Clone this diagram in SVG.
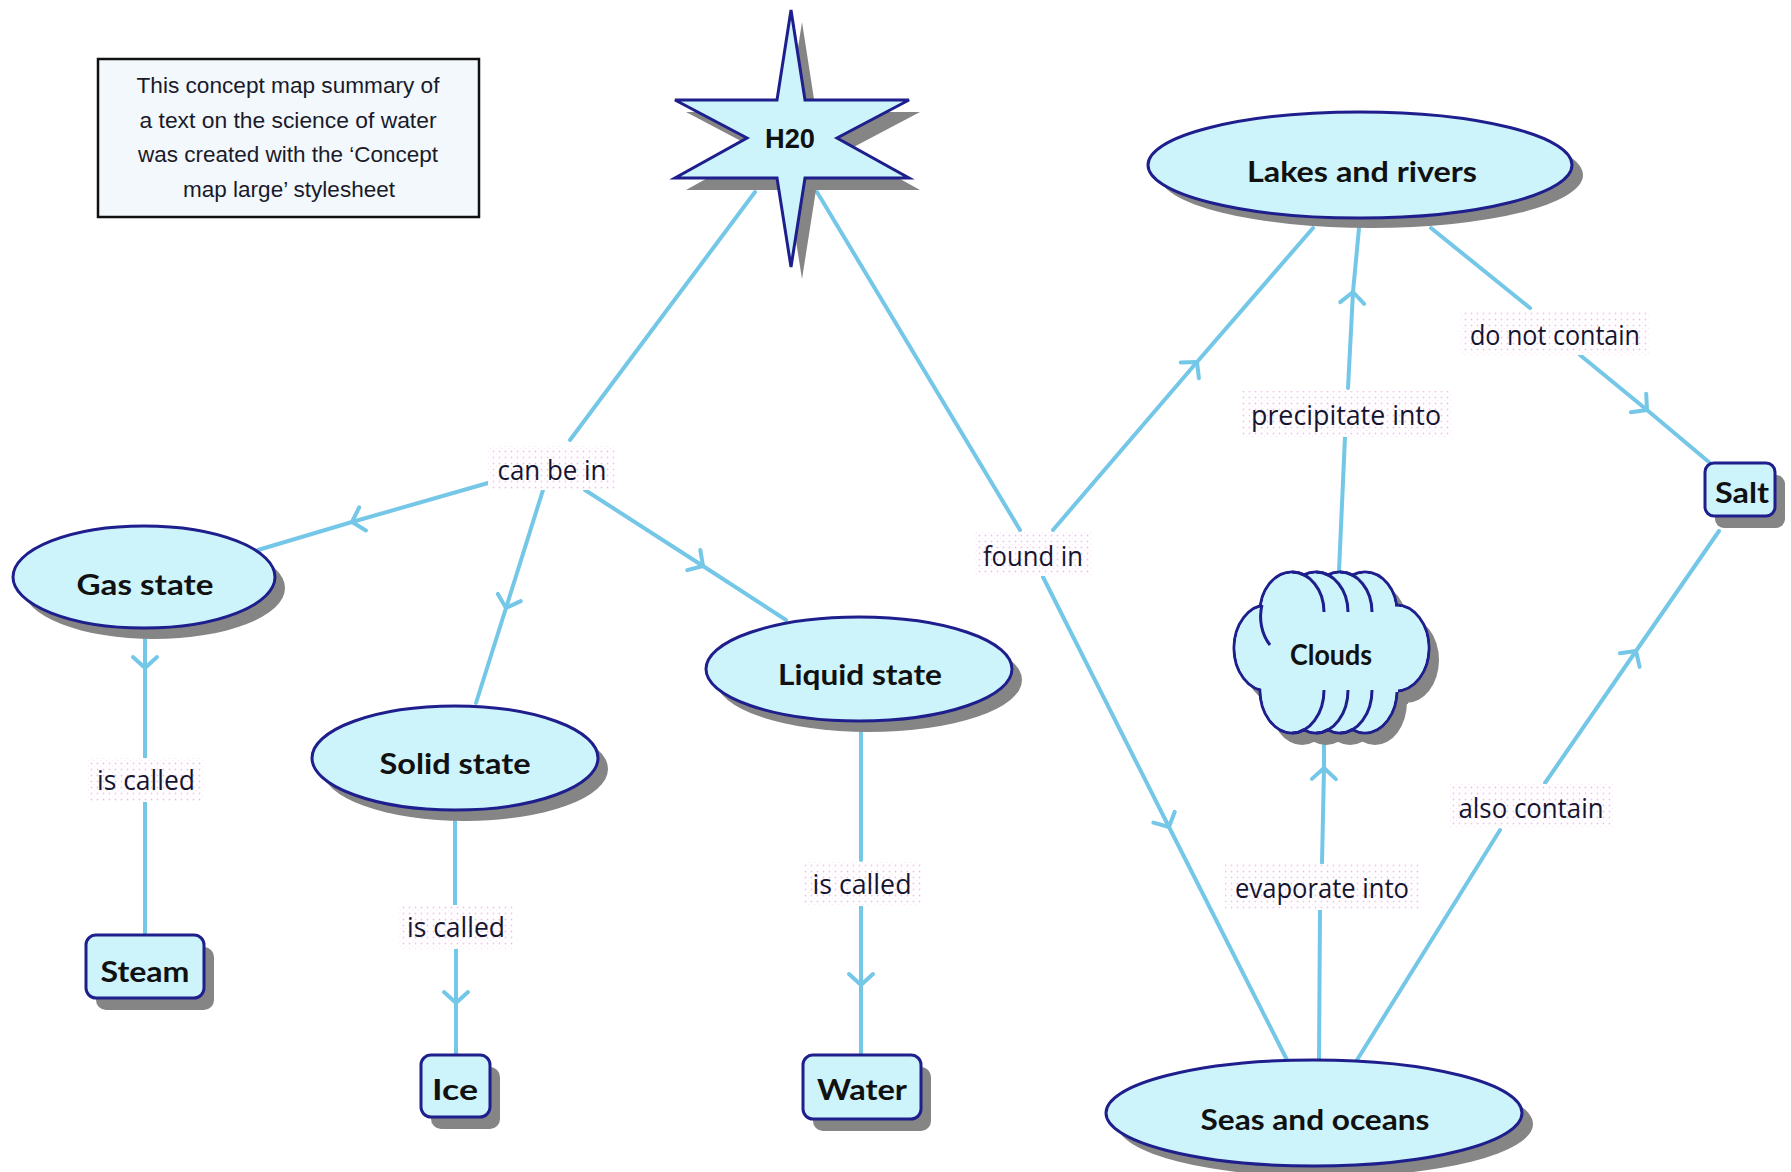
<svg xmlns="http://www.w3.org/2000/svg" width="1791" height="1172" viewBox="0 0 1791 1172">
<defs>
<style>
.node{fill:#cdf3fb;stroke:#1e1e8c;stroke-width:3}
.fillonly{fill:#cdf3fb;stroke:none}
.shadow{fill:#858585;stroke:none}
.ntext{font-family:Lato,"Open Sans",sans-serif;font-weight:700;font-size:28px;fill:#111;text-anchor:middle}
.ltext{font-family:"Open Sans","Noto Sans",sans-serif;font-size:27px;fill:#151530;text-anchor:middle}
.notetext{font-family:"Liberation Sans",Arial,sans-serif;font-size:22px;fill:#1a1a2a;text-anchor:middle}
.link{fill:none;stroke:#74c7e7;stroke-width:4;stroke-linecap:round;stroke-linejoin:round}
.arrow{marker-mid:url(#vee)}
.lbg{fill:url(#pinkdots);stroke:none}
.inner{fill:none;stroke:#1e1e8c;stroke-width:3}
</style>
<marker id="vee" markerUnits="userSpaceOnUse" viewBox="-15 -15 30 30" markerWidth="30" markerHeight="30" refX="0" refY="0" orient="auto" overflow="visible">
<path d="M -11 -12 L 0 0 L -11 12" fill="none" stroke="#74c7e7" stroke-width="4" stroke-linecap="round" stroke-linejoin="round"/>
</marker>
<pattern id="pinkdots" width="6" height="6" patternUnits="userSpaceOnUse">
<rect width="6" height="6" fill="#ffffff"/>
<circle cx="1.5" cy="1.5" r="0.9" fill="#f6c2ef"/>
<circle cx="4.5" cy="4.5" r="0.6" fill="#fbe0f6"/>
</pattern>
</defs>

<rect width="1791" height="1172" fill="#ffffff"/>

<!-- connectors -->
<g id="connectors">
<path class="link" d="M 755 192 L 570 440"/>
<path class="link arrow" d="M 488 483 L 352 522 L 258 550"/>
<path class="link arrow" d="M 543 490 L 506 608 L 476 703"/>
<path class="link arrow" d="M 585 490 L 703 566 L 786 620"/>
<path class="link arrow" d="M 145 628 L 145 668 L 145 758"/>
<path class="link" d="M 145 800 L 145 935"/>
<path class="link" d="M 455 811 L 455 905"/>
<path class="link arrow" d="M 456 947 L 456 1003 L 456 1055"/>
<path class="link" d="M 861 722 L 861 860"/>
<path class="link arrow" d="M 861 905 L 861 985 L 861 1055"/>
<path class="link" d="M 817 192 L 1020 530"/>
<path class="link arrow" d="M 1053 530 L 1197 362 L 1313 228"/>
<path class="link arrow" d="M 1043 577 L 1169 827 L 1287 1060"/>
<path class="link" d="M 1339 571 L 1345 437"/>
<path class="link arrow" d="M 1348 388 L 1353 292 L 1359 228"/>
<path class="link" d="M 1319 1060 L 1320 910"/>
<path class="link arrow" d="M 1322 863 L 1324 768 L 1324 740"/>
<path class="link" d="M 1431 228 L 1530 308"/>
<path class="link arrow" d="M 1580 355 L 1647 410 L 1710 463"/>
<path class="link" d="M 1357 1060 L 1500 830"/>
<path class="link arrow" d="M 1545 783 L 1636 651 L 1719 531"/>
</g>

<!-- linking phrases -->
<g id="link-labels">
<g id="lbl-can-be-in"><rect class="lbg" x="488" y="446" width="128" height="44"/><text class="ltext" x="552" y="480" textLength="109" lengthAdjust="spacingAndGlyphs">can be in</text></g>
<g id="lbl-found-in"><rect class="lbg" x="974" y="532" width="118" height="44"/><text class="ltext" x="1033" y="566" textLength="100" lengthAdjust="spacingAndGlyphs">found in</text></g>
<g id="lbl-precipitate"><rect class="lbg" x="1241" y="391" width="210" height="46"/><text class="ltext" x="1346" y="425" textLength="190" lengthAdjust="spacingAndGlyphs">precipitate into</text></g>
<g id="lbl-do-not-contain"><rect class="lbg" x="1460" y="311" width="190" height="44"/><text class="ltext" x="1555" y="345" textLength="170" lengthAdjust="spacingAndGlyphs">do not contain</text></g>
<g id="lbl-evaporate"><rect class="lbg" x="1225" y="864" width="194" height="46"/><text class="ltext" x="1322" y="898" textLength="174" lengthAdjust="spacingAndGlyphs">evaporate into</text></g>
<g id="lbl-also-contain"><rect class="lbg" x="1449" y="784" width="165" height="44"/><text class="ltext" x="1531" y="818" textLength="145" lengthAdjust="spacingAndGlyphs">also contain</text></g>
<g id="lbl-is-called-gas"><rect class="lbg" x="88" y="758" width="116" height="44"/><text class="ltext" x="146" y="790" textLength="98" lengthAdjust="spacingAndGlyphs">is called</text></g>
<g id="lbl-is-called-solid"><rect class="lbg" x="398" y="905" width="116" height="44"/><text class="ltext" x="456" y="937" textLength="98" lengthAdjust="spacingAndGlyphs">is called</text></g>
<g id="lbl-is-called-liquid"><rect class="lbg" x="803" y="862" width="118" height="44"/><text class="ltext" x="862" y="894" textLength="99" lengthAdjust="spacingAndGlyphs">is called</text></g>
</g>

<!-- explanatory note -->
<g id="note">
<rect x="98" y="59" width="381" height="158" fill="#f2f8fc" stroke="#111" stroke-width="2.5"/>
<text class="notetext" x="288" y="93" textLength="303" lengthAdjust="spacingAndGlyphs">This concept map summary of</text>
<text class="notetext" x="288" y="128" textLength="297" lengthAdjust="spacingAndGlyphs">a text on the science of water</text>
<text class="notetext" x="288" y="162" textLength="300" lengthAdjust="spacingAndGlyphs">was created with the ‘Concept</text>
<text class="notetext" x="289" y="197" textLength="212" lengthAdjust="spacingAndGlyphs">map large’ stylesheet</text>
</g>

<!-- H20 star -->
<g id="n-h2o">
<path class="shadow" transform="translate(11 12)" d="M 791 10 L 805 100 L 909 100 L 837 138 L 909 178 L 805 178 L 791 267 L 777 178 L 675 178 L 747 138 L 675 100 L 777 100 Z"/>
<path class="node" d="M 791 10 L 805 100 L 909 100 L 837 138 L 909 178 L 805 178 L 791 267 L 777 178 L 675 178 L 747 138 L 675 100 L 777 100 Z"/>
<text x="790" y="148" font-family="'Liberation Sans',Arial,sans-serif" font-weight="700" font-size="28" fill="#111" text-anchor="middle" textLength="50" lengthAdjust="spacingAndGlyphs">H20</text>
</g>

<g id="n-lakes">
<ellipse class="shadow" cx="1371" cy="175" rx="212" ry="53"/>
<ellipse class="node" cx="1360" cy="165" rx="212" ry="53"/>
<text class="ntext" x="1362" y="182" textLength="230" lengthAdjust="spacingAndGlyphs">Lakes and rivers</text>
</g>

<g id="n-gas">
<ellipse class="shadow" cx="154" cy="588" rx="131" ry="51"/>
<ellipse class="node" cx="144" cy="577" rx="131" ry="51"/>
<text class="ntext" x="145" y="595" textLength="137" lengthAdjust="spacingAndGlyphs">Gas state</text>
</g>

<g id="n-solid">
<ellipse class="shadow" cx="465" cy="769" rx="143" ry="52"/>
<ellipse class="node" cx="455" cy="758" rx="143" ry="52"/>
<text class="ntext" x="455" y="774" textLength="151" lengthAdjust="spacingAndGlyphs">Solid state</text>
</g>

<g id="n-liquid">
<ellipse class="shadow" cx="869" cy="680" rx="153" ry="52"/>
<ellipse class="node" cx="859" cy="669" rx="153" ry="52"/>
<text class="ntext" x="860" y="685" textLength="164" lengthAdjust="spacingAndGlyphs">Liquid state</text>
</g>

<g id="n-seas">
<ellipse class="shadow" cx="1325" cy="1124" rx="208" ry="53"/>
<ellipse class="node" cx="1314" cy="1113" rx="208" ry="53"/>
<text class="ntext" x="1315" y="1130" textLength="229" lengthAdjust="spacingAndGlyphs">Seas and oceans</text>
</g>

<g id="n-steam">
<rect class="shadow" x="96" y="947" width="118" height="63" rx="10"/>
<rect class="node" x="86" y="935" width="118" height="63" rx="10"/>
<text class="ntext" x="145" y="982" textLength="89" lengthAdjust="spacingAndGlyphs">Steam</text>
</g>

<g id="n-ice">
<rect class="shadow" x="431" y="1067" width="69" height="62" rx="10"/>
<rect class="node" x="421" y="1055" width="69" height="62" rx="10"/>
<text class="ntext" x="455" y="1100" textLength="46" lengthAdjust="spacingAndGlyphs">Ice</text>
</g>

<g id="n-water">
<rect class="shadow" x="813" y="1067" width="118" height="64" rx="10"/>
<rect class="node" x="803" y="1055" width="118" height="64" rx="10"/>
<text class="ntext" x="862" y="1100" textLength="90" lengthAdjust="spacingAndGlyphs">Water</text>
</g>

<g id="n-salt">
<rect class="shadow" x="1715" y="475" width="70" height="53" rx="9"/>
<rect class="node" x="1705" y="463" width="70" height="53" rx="9"/>
<text class="ntext" x="1742" y="503" textLength="54" lengthAdjust="spacingAndGlyphs">Salt</text>
</g>

<!-- cloud: lobes stroked first, then refilled so only the outer outline remains -->
<g id="n-clouds">
<g class="shadow" transform="translate(10 12)">
<ellipse cx="1267" cy="648" rx="33" ry="43"/><ellipse cx="1396" cy="648" rx="33" ry="43"/>
<rect x="1262" y="610" width="136" height="82"/>
<ellipse cx="1292" cy="612" rx="32" ry="40"/><ellipse cx="1316" cy="612" rx="32" ry="40"/><ellipse cx="1340" cy="612" rx="32" ry="40"/><ellipse cx="1365" cy="612" rx="32" ry="40"/>
<ellipse cx="1292" cy="690" rx="32" ry="43"/><ellipse cx="1316" cy="690" rx="32" ry="43"/><ellipse cx="1340" cy="690" rx="32" ry="43"/><ellipse cx="1365" cy="690" rx="32" ry="43"/>
</g>
<g class="node">
<ellipse cx="1267" cy="648" rx="33" ry="43"/><ellipse cx="1396" cy="648" rx="33" ry="43"/>
<ellipse cx="1292" cy="612" rx="32" ry="40"/><ellipse cx="1316" cy="612" rx="32" ry="40"/><ellipse cx="1340" cy="612" rx="32" ry="40"/><ellipse cx="1365" cy="612" rx="32" ry="40"/>
<ellipse cx="1292" cy="690" rx="32" ry="43"/><ellipse cx="1316" cy="690" rx="32" ry="43"/><ellipse cx="1340" cy="690" rx="32" ry="43"/><ellipse cx="1365" cy="690" rx="32" ry="43"/>
</g>
<g class="fillonly">
<ellipse cx="1267" cy="648" rx="31.5" ry="41.5"/><ellipse cx="1396" cy="648" rx="31.5" ry="41.5"/>
<rect x="1262" y="610" width="136" height="82"/>
<ellipse cx="1292" cy="612" rx="30.5" ry="38.5"/><ellipse cx="1316" cy="612" rx="30.5" ry="38.5"/><ellipse cx="1340" cy="612" rx="30.5" ry="38.5"/><ellipse cx="1365" cy="612" rx="30.5" ry="38.5"/>
<ellipse cx="1292" cy="690" rx="30.5" ry="41.5"/><ellipse cx="1316" cy="690" rx="30.5" ry="41.5"/><ellipse cx="1340" cy="690" rx="30.5" ry="41.5"/><ellipse cx="1365" cy="690" rx="30.5" ry="41.5"/>
</g>
<path class="inner" d="M 1292 572 A 32 40 0 0 1 1324 612 M 1316 572 A 32 40 0 0 1 1348 612 M 1340 572 A 32 40 0 0 1 1372 612"/>
<path class="inner" d="M 1324 690 A 32 43 0 0 1 1292 733 M 1348 690 A 32 43 0 0 1 1316 733 M 1372 690 A 32 43 0 0 1 1340 733"/>
<path class="inner" d="M 1262 605 A 32 40 0 0 0 1270 645"/>
<text class="ntext" x="1331" y="665" textLength="82" lengthAdjust="spacingAndGlyphs">Clouds</text>
</g>
</svg>
